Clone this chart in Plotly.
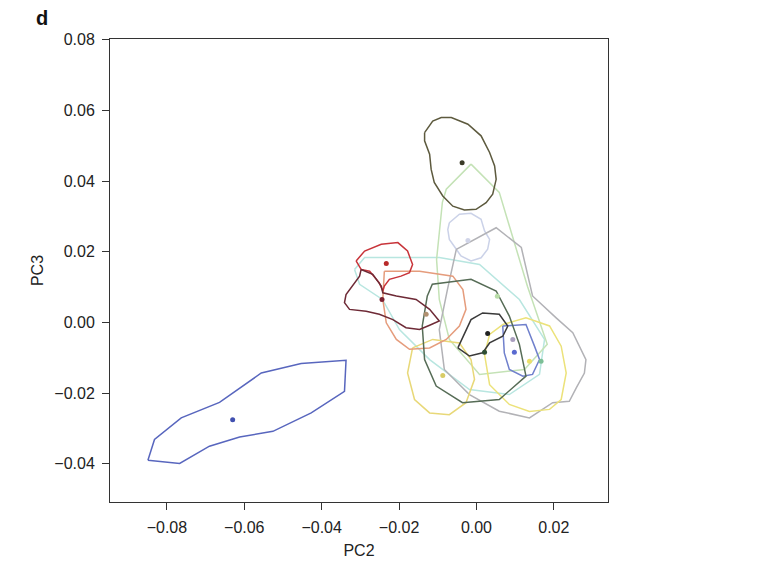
import plotly.graph_objects as go

# ---- data (PC2, PC3) ----
groups = ["cyan", "light_green", "lavender", "grey", "yellow_r", "yellow_l", "orange",
          "blue_small", "dark_green", "red", "maroon", "black", "olive", "blue"]

cyan_x = [-0.0315, -0.0289, -0.0096, 0.0008, 0.0111, 0.0176, 0.0163, 0.0085, -0.0018, -0.0121, -0.0199, -0.0243, -0.0302]
cyan_y = [0.0150, 0.0184, 0.0184, 0.0164, 0.0065, -0.0048, -0.0147, -0.0204, -0.0190, -0.0105, -0.0020, 0.0065, 0.0108]

light_green_x = [-0.0014, 0.0059, 0.0132, 0.0183, 0.0124, 0.0008, -0.0070, -0.0096, -0.0103, -0.0088, -0.0078]
light_green_y = [0.0448, 0.0368, 0.0102, -0.0062, -0.0133, -0.0147, -0.0048, 0.0065, 0.0178, 0.0340, 0.0377]

lavender_x = [-0.0070, -0.0044, -0.0014, 0.0012, 0.0021, 0.0034, 0.0029, 0.0012, -0.0014, -0.0040, -0.0052, -0.0070, -0.0074]
lavender_y = [0.0282, 0.0306, 0.0309, 0.0292, 0.0259, 0.0235, 0.0207, 0.0183, 0.0174, 0.0188, 0.0207, 0.0235, 0.0263]

grey_x = [-0.0052, 0.0051, 0.0116, 0.0145, 0.0206, 0.0249, 0.0283, 0.0279, 0.0258, 0.0240, 0.0197, 0.0137, 0.0059, -0.0018, -0.0083, -0.0096, -0.0075]
grey_y = [0.0207, 0.0268, 0.0212, 0.0075, 0.0013, -0.0029, -0.0105, -0.0143, -0.0185, -0.0223, -0.0227, -0.0270, -0.0251, -0.0204, -0.0133, -0.0020, 0.0093]

yellow_r_x = [0.0068, 0.0128, 0.0189, 0.0219, 0.0232, 0.0219, 0.0189, 0.0137, 0.0085, 0.0034, 0.0021, 0.0034]
yellow_r_y = [-0.0006, 0.0013, -0.0010, -0.0067, -0.0143, -0.0218, -0.0246, -0.0252, -0.0232, -0.0176, -0.0091, -0.0034]

yellow_l_x = [-0.0165, -0.0113, -0.0044, -0.0014, -0.0005, -0.0027, -0.0070, -0.0121, -0.0160, -0.0178]
yellow_l_y = [-0.0072, -0.0048, -0.0058, -0.0105, -0.0161, -0.0227, -0.0261, -0.0256, -0.0218, -0.0143]

orange_x = [-0.0238, -0.0147, -0.0061, -0.0035, -0.0027, -0.0044, -0.0078, -0.0121, -0.0173, -0.0207, -0.0233, -0.0242]
orange_y = [0.0145, 0.0145, 0.0131, 0.0093, 0.0037, -0.0010, -0.0048, -0.0072, -0.0076, -0.0048, -0.0001, 0.0065]

blue_small_x = [0.0068, 0.0128, 0.0150, 0.0163, 0.0145, 0.0120, 0.0085, 0.0072]
blue_small_y = [-0.0010, -0.0006, -0.0067, -0.0105, -0.0147, -0.0152, -0.0133, -0.0086]

dark_green_x = [-0.0127, -0.0114, -0.0014, 0.0051, 0.0085, 0.0111, 0.0128, 0.0059, -0.0036, -0.0104, -0.0134, -0.0140]
dark_green_y = [0.0075, 0.0108, 0.0122, 0.0089, 0.0018, -0.0062, -0.0152, -0.0218, -0.0227, -0.0180, -0.0105, -0.0010]

red_x = [-0.0311, -0.0289, -0.0246, -0.0203, -0.0178, -0.0165, -0.0173, -0.0195, -0.0225, -0.0238, -0.0242, -0.0251, -0.0276, -0.0298]
red_y = [0.0174, 0.0202, 0.0221, 0.0226, 0.0202, 0.0164, 0.0141, 0.0131, 0.0122, 0.0103, 0.0089, 0.0112, 0.0145, 0.0150]

maroon_x = [-0.0298, -0.0268, -0.0246, -0.0242, -0.0207, -0.0156, -0.0121, -0.0096, -0.0121, -0.0147, -0.0182, -0.0216, -0.0251, -0.0285, -0.0328, -0.0341, -0.0337, -0.0315, -0.0302]
maroon_y = [0.0150, 0.0136, 0.0103, 0.0084, 0.0075, 0.0065, 0.0037, 0.0004, -0.0008, -0.0020, -0.0015, 0.0008, 0.0023, 0.0032, 0.0037, 0.0056, 0.0079, 0.0112, 0.0131]

black_x = [-0.0048, -0.0014, 0.0016, 0.0059, 0.0081, 0.0068, 0.0034, 0.0016, -0.0018]
black_y = [-0.0072, 0.0008, 0.0027, 0.0023, -0.0010, -0.0039, -0.0058, -0.0086, -0.0095]

olive_x = [-0.0134, -0.0113, -0.0091, -0.0065, -0.0022, 0.0012, 0.0034, 0.0047, 0.0051, 0.0042, 0.0025, -0.0001, -0.0031, -0.0061, -0.0087, -0.0109, -0.0117, -0.0121, -0.0134]
olive_y = [0.0537, 0.0570, 0.0580, 0.0580, 0.0561, 0.0528, 0.0481, 0.0443, 0.0405, 0.0363, 0.0339, 0.0320, 0.0318, 0.0329, 0.0358, 0.0396, 0.0433, 0.0476, 0.0514]

blue_x = [-0.0849, -0.0832, -0.0763, -0.0664, -0.0556, -0.0453, -0.0337, -0.0341, -0.0427, -0.0526, -0.0612, -0.0690, -0.0767]
blue_y = [-0.0390, -0.0331, -0.0270, -0.0226, -0.0143, -0.0116, -0.0107, -0.0195, -0.0256, -0.0308, -0.0324, -0.0350, -0.0399]

# group centroids
centroid_x = [0.0167, 0.0054, -0.0022, 0.0094, 0.0137, -0.0087, -0.0130, 0.0098, 0.0021, -0.0233, -0.0244, 0.0029, -0.0037, -0.0630]
centroid_y = [-0.0110, 0.0074, 0.0232, -0.0048, -0.0110, -0.0150, 0.0023, -0.0084, -0.0084, 0.0167, 0.0065, -0.0031, 0.0452, -0.0275]

x_ticks = [-0.08, -0.06, -0.04, -0.02, 0.0, 0.02]
y_ticks = [-0.04, -0.02, 0.0, 0.02, 0.04, 0.06, 0.08]

line_colors = ["#b8e6e0", "#c4e2b6", "#cbd2e8", "#b2b2b6", "#ece27a", "#e8d878", "#e59c7c",
               "#7080cc", "#566c56", "#c8343a", "#6e2a36", "#3a3a3a", "#5d5a3e", "#5866be"]
dot_colors = ["#7cbf96", "#b8dca8", "#d0d4e8", "#aa9fbf", "#ede06a", "#d8cc66", "#b09070",
              "#5a6ad0", "#2e4e34", "#b82a2a", "#7a2030", "#222222", "#3b3b28", "#4150b0"]

xs = {"cyan": cyan_x, "light_green": light_green_x, "lavender": lavender_x, "grey": grey_x,
      "yellow_r": yellow_r_x, "yellow_l": yellow_l_x, "orange": orange_x, "blue_small": blue_small_x,
      "dark_green": dark_green_x, "red": red_x, "maroon": maroon_x, "black": black_x,
      "olive": olive_x, "blue": blue_x}
ys = {"cyan": cyan_y, "light_green": light_green_y, "lavender": lavender_y, "grey": grey_y,
      "yellow_r": yellow_r_y, "yellow_l": yellow_l_y, "orange": orange_y, "blue_small": blue_small_y,
      "dark_green": dark_green_y, "red": red_y, "maroon": maroon_y, "black": black_y,
      "olive": olive_y, "blue": blue_y}

fig = go.Figure()
for g, lc in zip(groups, line_colors):
    x = xs[g] + [xs[g][0]]
    y = ys[g] + [ys[g][0]]
    fig.add_trace(go.Scatter(x=x, y=y, mode="lines", line=dict(color=lc, width=1.5),
                             hoverinfo="skip", showlegend=False))
for g, cx, cy, dc in zip(groups, centroid_x, centroid_y, dot_colors):
    fig.add_trace(go.Scatter(x=[cx], y=[cy], mode="markers",
                             marker=dict(color=dc, size=5), showlegend=False, name=g))

font_family = "Liberation Sans, Arial, sans-serif"
axis_common = dict(showgrid=False, zeroline=False, showline=True, linecolor="#333333",
                   linewidth=1, mirror=True, ticks="outside", ticklen=7, tickcolor="#333333",
                   tickformat=".2f", ticklabelstandoff=4, automargin=False,
                   tickfont=dict(family=font_family, size=16, color="#222222"))

fig.update_layout(
    width=760, height=563,
    margin=dict(l=110, r=152, t=39, b=61),
    paper_bgcolor="white", plot_bgcolor="white",
    xaxis=dict(range=[-0.0947, 0.0340], tickvals=x_ticks,
               title=dict(text="PC2", font=dict(family=font_family, size=16, color="#222222"), standoff=9),
               **axis_common),
    yaxis=dict(range=[-0.0508, 0.0802], tickvals=y_ticks,
               title=dict(text="PC3", font=dict(family=font_family, size=16, color="#222222"), standoff=6),
               **axis_common),
)
fig.add_annotation(text="<b>d</b>", xref="paper", yref="paper", x=-0.153, y=1.045,
                   xanchor="left", yanchor="middle", showarrow=False,
                   font=dict(family=font_family, size=20, color="#111111"))

fig.write_html("out.html")
